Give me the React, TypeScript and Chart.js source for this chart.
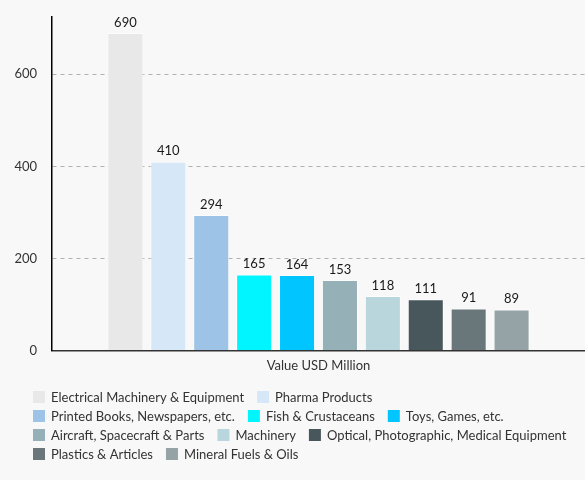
import React, { useEffect, useRef } from 'react';
import { Chart, registerables } from 'chart.js';

Chart.register(...registerables);

const categories = ['Value USD Million'];
const seriesNames = [
	'Electrical Machinery & Equipment',
	'Pharma Products',
	'Printed Books, Newspapers, etc.',
	'Fish & Crustaceans',
	'Toys, Games, etc.',
	'Aircraft, Spacecraft & Parts',
	'Machinery',
	'Optical, Photographic, Medical Equipment',
	'Plastics & Articles',
	'Mineral Fuels & Oils',
];
const seriesValues = [690, 410, 294, 165, 164, 153, 118, 111, 91, 89];
const seriesColors = [
	'#e8e8e8',
	'#d6e7f7',
	'#9dc3e6',
	'#00f5ff',
	'#00c5ff',
	'#95b0b6',
	'#b8d6dc',
	'#48575c',
	'#69777a',
	'#96a3a6',
];
const yTicks = [0, 200, 400, 600];

// draw the value above every bar
const valueLabels = {
	id: 'valueLabels',
	afterDatasetsDraw(chart: any) {
		const ctx = chart.ctx;
		ctx.save();
		ctx.font = '13px Lato';
		ctx.fillStyle = '#1a1a1a';
		ctx.textAlign = 'center';
		ctx.textBaseline = 'bottom';
		chart.data.datasets.forEach((ds: any, i: number) => {
			const meta = chart.getDatasetMeta(i);
			meta.data.forEach((bar: any, j: number) => {
				ctx.fillText(String(ds.data[j]), bar.x, bar.y - 4);
			});
		});
		ctx.restore();
	},
};

// legend drawn by hand: the built-in one ties row spacing to item gap
const bottomLegend = {
	id: 'bottomLegend',
	afterDraw(chart: any) {
		const ctx = chart.ctx;
		const startX = 33;
		const maxX = 572;
		const rowH = 19;
		const box = 12;
		const gap = 13;
		let x = startX;
		let y = 397;
		ctx.save();
		ctx.font = '13px Lato';
		ctx.textBaseline = 'middle';
		ctx.textAlign = 'left';
		chart.data.datasets.forEach((ds: any, i: number) => {
			const w = box + 6 + ctx.measureText(ds.label).width;
			if (i > 0 && x + w > maxX) {
				x = startX;
				y += rowH;
			}
			ctx.fillStyle = ds.backgroundColor;
			ctx.fillRect(x, y - box / 2, box, box);
			ctx.fillStyle = '#333';
			ctx.fillText(ds.label, x + box + 6, y + 1);
			x += w + gap;
		});
		ctx.restore();
	},
};

const App: React.FC = () => {
	const chartRef = useRef<HTMLCanvasElement | null>(null);
	const chartInstanceRef = useRef<Chart | null>(null);

	useEffect(() => {
		document.body.style.margin = '0';
		document.body.style.background = '#f8f8f8';
		if (!chartRef.current) return;
		const ctx = chartRef.current.getContext('2d');
		if (!ctx) return;

		Chart.defaults.font.family = 'Lato';
		Chart.defaults.color = '#333';

		const yMax = Math.max(...seriesValues) * 1.05;

		const config: any = {
			type: 'bar',
			data: {
				labels: categories,
				datasets: seriesNames.map((name, i) => ({
					label: name,
					data: [seriesValues[i]],
					backgroundColor: seriesColors[i],
					borderColor: 'rgba(255,255,255,0.6)',
					borderWidth: 1,
				})),
			},
			options: {
				animation: false,
				responsive: false,
				maintainAspectRatio: false,
				layout: {
					padding: { top: 17, left: 13, right: 0, bottom: 98 },
				},
				datasets: {
					bar: {
						categoryPercentage: 0.805,
						barPercentage: 0.84,
					},
				},
				scales: {
					x: {
						grid: { display: false, drawTicks: false },
						border: { display: true, color: '#333', width: 1.5 },
						ticks: { font: { size: 13 }, color: '#333', padding: 8 },
					},
					y: {
						min: 0,
						max: yMax,
						afterBuildTicks: (scale: any) => {
							scale.ticks = yTicks.map((v) => ({ value: v }));
						},
						afterFit: (scale: any) => {
							scale.width = 39;
						},
						grid: {
							color: (c: any) => (c.tick && c.tick.value === 0 ? 'rgba(0,0,0,0)' : '#b0b0b0'),
							drawTicks: true,
							tickLength: 15,
							tickColor: 'rgba(0,0,0,0)',
						},
						border: { display: true, color: '#000', width: 1.5, dash: [4, 4] },
						ticks: { font: { size: 13 }, color: '#333', padding: 0 },
					},
				},
				plugins: {
					legend: { display: false },
					tooltip: { enabled: false },
				},
			},
			plugins: [valueLabels, bottomLegend],
		};

		if (chartInstanceRef.current) {
			chartInstanceRef.current.destroy();
		}
		chartInstanceRef.current = new Chart(ctx, config);

		return () => {
			if (chartInstanceRef.current) {
				chartInstanceRef.current.destroy();
				chartInstanceRef.current = null;
			}
		};
	}, []);

	return <canvas ref={chartRef} width={585} height={480} style={{ display: 'block' }} />;
};

export default App;
